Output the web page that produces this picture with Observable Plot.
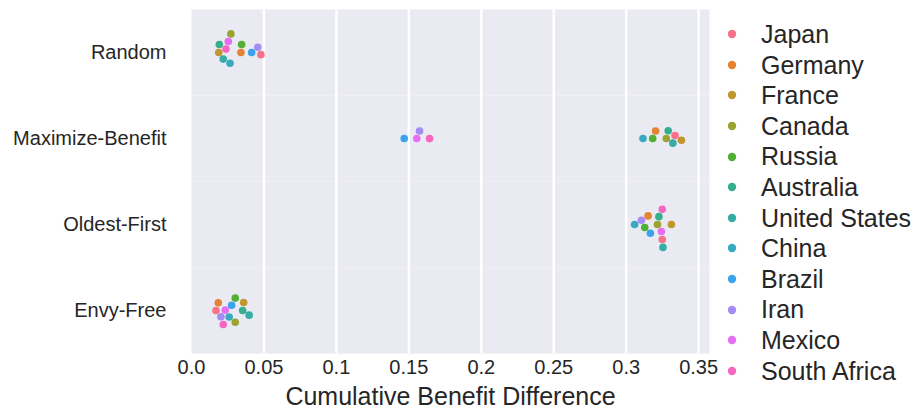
<!DOCTYPE html>
<html>
<head>
<meta charset="utf-8">
<script src="https://cdn.jsdelivr.net/npm/d3@7"></script>
<script src="https://cdn.jsdelivr.net/npm/@observablehq/plot@0.6"></script>
<style>
  html, body { margin: 0; padding: 0; background: #fff; }
  #wrap { position: relative; width: 918px; height: 413px; font-family: "Liberation Sans", Arial, sans-serif; color: #262626; }
  #chart { position: absolute; left: 0; top: 0; }
  #legend { position: absolute; left: 724px; top: 19px; }
  .item { display: flex; align-items: center; height: 30.6px; font-size: 25px; line-height: 30.6px; white-space: nowrap; }
  .item svg { width: 16px; height: 16px; margin-right: 21px; flex: none; }
</style>
</head>
<body>
<div id="wrap">
  <div id="chart"></div>
  <div id="legend"></div>
</div>
<script>
// Allocation policies (rows) and countries (hue)
const methods = ["Random", "Maximize-Benefit", "Oldest-First", "Envy-Free"];
const countries = ["Japan", "Germany", "France", "Canada", "Russia", "Australia",
  "United States", "China", "Brazil", "Iran", "Mexico", "South Africa"];
const colors = ["#f77189", "#e68332", "#c0962f", "#9ca331", "#51b033", "#34ae8b",
  "#36ada4", "#38a9bf", "#3ba3ec", "#a48cf4", "#e56ef2", "#f668c0"];

// Cumulative benefit difference per country, in the country order above
const randomVals      = [0.0479, 0.0341, 0.0188, 0.0272, 0.0346, 0.0192, 0.0219, 0.0266, 0.0415, 0.0457, 0.0254, 0.0238];
const maxBenefitVals  = [0.3337, 0.3203, 0.3381, 0.3277, 0.3183, 0.3290, 0.3322, 0.3116, 0.1468, 0.1574, 0.1555, 0.1643];
const oldestFirstVals = [0.3249, 0.3151, 0.3312, 0.3216, 0.3128, 0.3226, 0.3254, 0.3058, 0.3167, 0.3105, 0.3243, 0.3249];
const envyFreeVals    = [0.0169, 0.0185, 0.0360, 0.0302, 0.0302, 0.0353, 0.0398, 0.0260, 0.0277, 0.0203, 0.0233, 0.0219];

const xTicks = [0, 0.05, 0.1, 0.15, 0.2, 0.25, 0.3, 0.35];

const series = [randomVals, maxBenefitVals, oldestFirstVals, envyFreeVals];
// long-format rows, sorted by value so the swarm is built from low to high
const rows = d3.sort(
  series.flatMap((vals, m) => vals.map((v, c) => ({method: methods[m], country: countries[c], value: v}))),
  d => d.value
);

const chart = Plot.plot({
  width: 712,
  height: 413,
  marginLeft: 191,
  marginRight: 3,
  marginTop: 9,
  marginBottom: 60,
  style: {fontFamily: "'Liberation Sans', Arial, sans-serif", color: "#262626", background: "transparent", overflow: "visible"},
  x: {domain: [0, 0.3575]},
  fy: {domain: methods, padding: 0},
  color: {domain: countries, range: colors},
  marks: [
    Plot.frame({fill: "#eaeaf2", stroke: null}),
    Plot.gridX(xTicks.slice(1), {stroke: "white", strokeOpacity: 1, strokeWidth: 2.5}),
    Plot.axisX(xTicks, {
      tickSize: 0, tickPadding: 6, fontSize: 20,
      tickFormat: d => d === 0 ? "0.0" : String(d),
      label: "Cumulative Benefit Difference", labelAnchor: "center", labelArrow: "none", labelOffset: 51
    }),
    Plot.axisFy({anchor: "left", tickSize: 0, tickPadding: 25, fontSize: 20, label: null}),
    Plot.dot(rows, Plot.dodgeY({anchor: "middle", padding: 0.4}, {x: "value", fy: "method", fill: "country", r: 3.8}))
  ]
});
d3.select(chart).selectAll('[aria-label="x-axis label"] text, [aria-label="x-axis label"]').attr("font-size", 25);
document.getElementById("chart").appendChild(chart);

// Country legend to the right of the plot
const legend = d3.select("#legend");
countries.forEach((name, i) => {
  const item = legend.append("div").attr("class", "item");
  item.append("svg").attr("viewBox", "0 0 16 16")
    .append("circle").attr("cx", 8).attr("cy", 8).attr("r", 4.2).attr("fill", colors[i]);
  item.append("span").text(name);
});
</script>
</body>
</html>
